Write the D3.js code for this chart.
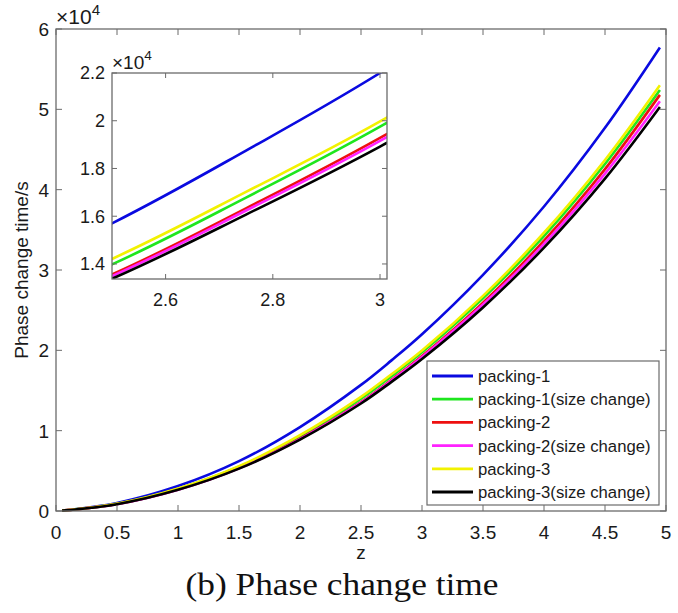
<!DOCTYPE html>
<html>
<head>
<meta charset="utf-8">
<script src="https://cdn.jsdelivr.net/npm/d3@7"></script>
<style>
  body { margin: 0; background: #fff; }
  svg { display: block; font-family: "Liberation Sans", Arial, sans-serif; }
</style>
</head>
<body>
<svg width="678" height="613"></svg>
<script>
// distance z and phase change time (s)
const zValues = [0.05, 0.5, 1, 1.5, 2, 2.5, 2.75, 3, 3.5, 4, 4.5, 4.95];
const packing1 = [50, 1000, 3100, 6200, 10450, 15700, 18750, 22000, 29400, 37900, 47700, 57700];
const packing1Size = [44, 885, 2750, 5500, 9280, 13980, 16780, 19750, 26490, 34220, 43200, 52400];
const packing2 = [43, 860, 2670, 5340, 9010, 13560, 16330, 19280, 25930, 33650, 42560, 51800];
const packing2Size = [43, 855, 2650, 5310, 8960, 13490, 16240, 19160, 25700, 33240, 42000, 51000];
const packing3 = [45, 900, 2790, 5580, 9440, 14210, 17020, 19970, 26780, 34640, 43700, 53000];
const packing3Size = [43, 850, 2640, 5270, 8890, 13380, 16070, 18920, 25340, 32780, 41380, 50300];

const seriesNames = ["packing-1", "packing-1(size change)", "packing-2",
  "packing-2(size change)", "packing-3", "packing-3(size change)"];
const seriesColors = ["#0a0ae0", "#1ee61e", "#ee1010", "#ff22ff", "#f2f200", "#000000"];
const seriesData = [packing1, packing1Size, packing2, packing2Size, packing3, packing3Size];

const xTicks = [0, 0.5, 1, 1.5, 2, 2.5, 3, 3.5, 4, 4.5, 5];
const yTicks = [0, 1, 2, 3, 4, 5, 6];
const insetXTicks = [2.6, 2.8, 3];
const insetYTicks = [1.4, 1.6, 1.8, 2, 2.2];

var svg = d3.select("svg");
var axisColor = "#6b6b6b";
var textColor = "#1a1a1a";

var series = seriesData.map((vals, i) => ({
  name: seriesNames[i],
  color: seriesColors[i],
  points: zValues.map((z, j) => ({ z: z, t: vals[j] }))
}));

// draw a MATLAB-style boxed axes with inward ticks on all sides
function boxAxes(g, x, y, xt, yt, fs, tl, fmtX, fmtY) {
  var [x0, x1] = x.range();
  var [y0, y1] = y.range();
  g.append("rect")
    .attr("x", x0).attr("y", y1)
    .attr("width", x1 - x0).attr("height", y0 - y1)
    .attr("fill", "none").attr("stroke", axisColor).attr("stroke-width", 1.3);
  xt.forEach(d => {
    g.append("line").attr("x1", x(d)).attr("x2", x(d)).attr("y1", y0).attr("y2", y0 - tl)
      .attr("stroke", axisColor);
    g.append("line").attr("x1", x(d)).attr("x2", x(d)).attr("y1", y1).attr("y2", y1 + tl)
      .attr("stroke", axisColor);
    g.append("text").attr("x", x(d)).attr("y", y0 + fs + 9)
      .attr("text-anchor", "middle").attr("font-size", fs).attr("fill", textColor)
      .text(fmtX(d));
  });
  yt.forEach(d => {
    g.append("line").attr("x1", x0).attr("x2", x0 + tl).attr("y1", y(d)).attr("y2", y(d))
      .attr("stroke", axisColor);
    g.append("line").attr("x1", x1).attr("x2", x1 - tl).attr("y1", y(d)).attr("y2", y(d))
      .attr("stroke", axisColor);
    g.append("text").attr("x", x0 - 7).attr("y", y(d)).attr("dy", "0.36em")
      .attr("text-anchor", "end").attr("font-size", fs).attr("fill", textColor)
      .text(fmtY(d));
  });
}

function exponentLabel(g, xPos, yPos, fs) {
  var t = g.append("text").attr("x", xPos).attr("y", yPos)
    .attr("font-size", fs).attr("fill", textColor);
  t.append("tspan").text("\u00d710");
  t.append("tspan").attr("dy", -fs * 0.45).attr("font-size", fs * 0.72).text("4");
}

// main axes
var x = d3.scaleLinear().domain([0, 5]).range([56, 666]);
var y = d3.scaleLinear().domain([0, 60000]).range([511, 29]);

var line = d3.line()
  .x(d => x(d.z))
  .y(d => y(d.t))
  .curve(d3.curveCatmullRom.alpha(0.5));

svg.append("g").selectAll("path")
  .data(series)
  .enter()
  .append("path")
  .attr("d", d => line(d.points))
  .attr("fill", "none")
  .attr("stroke", d => d.color)
  .attr("stroke-width", 2.6);

var main = svg.append("g");
boxAxes(main, x, y, xTicks, yTicks.map(d => d * 10000), 19, 6, d => d, d => d / 10000);
exponentLabel(main, 56, 24, 21);

// axis titles
svg.append("text")
  .attr("transform", "translate(28," + (y(30000)) + ") rotate(-90)")
  .attr("text-anchor", "middle")
  .attr("font-size", 19)
  .attr("fill", textColor)
  .text("Phase change time/s");

svg.append("text")
  .attr("x", (x(0) + x(5)) / 2)
  .attr("y", 559)
  .attr("text-anchor", "middle")
  .attr("font-size", 19)
  .attr("fill", textColor)
  .text("z");

svg.append("text")
  .attr("x", 342)
  .attr("y", 595)
  .attr("text-anchor", "middle")
  .attr("font-family", "'Liberation Serif', 'DejaVu Serif', serif")
  .attr("font-size", 31)
  .attr("textLength", 313)
  .attr("lengthAdjust", "spacingAndGlyphs")
  .attr("fill", "#111")
  .text("(b) Phase change time");

// inset zoom
var xi = d3.scaleLinear().domain([2.5, 3.013]).range([112, 387]);
var yi = d3.scaleLinear().domain([13370, 22000]).range([279, 73]);

svg.append("rect")
  .attr("x", 112).attr("y", 73)
  .attr("width", 275).attr("height", 206)
  .attr("fill", "#fff");

svg.append("clipPath").attr("id", "insetClip")
  .append("rect").attr("x", 112).attr("y", 73).attr("width", 275).attr("height", 206);

var lineInset = d3.line()
  .x(d => xi(d.z))
  .y(d => yi(d.t))
  .curve(d3.curveCatmullRom.alpha(0.5));

svg.append("g").attr("clip-path", "url(#insetClip)")
  .selectAll("path")
  .data(series)
  .enter()
  .append("path")
  .attr("d", d => lineInset(d.points))
  .attr("fill", "none")
  .attr("stroke", d => d.color)
  .attr("stroke-width", 2.6);

var inset = svg.append("g");
boxAxes(inset, xi, yi, insetXTicks, insetYTicks.map(d => d * 10000), 18, 5,
  d => d, d => d / 10000);
exponentLabel(inset, 112, 69, 19);

// legend
var legend = svg.append("g").attr("transform", "translate(427,361)");
legend.append("rect")
  .attr("width", 232).attr("height", 144)
  .attr("fill", "#fff").attr("stroke", axisColor).attr("stroke-width", 1.2);

var rows = legend.selectAll("g.row")
  .data(series)
  .enter()
  .append("g")
  .attr("class", "row")
  .attr("transform", (d, i) => "translate(0," + (15 + i * 23.2) + ")");

rows.append("line")
  .attr("x1", 5).attr("x2", 46)
  .attr("stroke", d => d.color)
  .attr("stroke-width", 2.8);

rows.append("text")
  .attr("x", 51).attr("dy", "0.36em")
  .attr("font-size", 16.7)
  .attr("fill", textColor)
  .text(d => d.name);
</script>
</body>
</html>
